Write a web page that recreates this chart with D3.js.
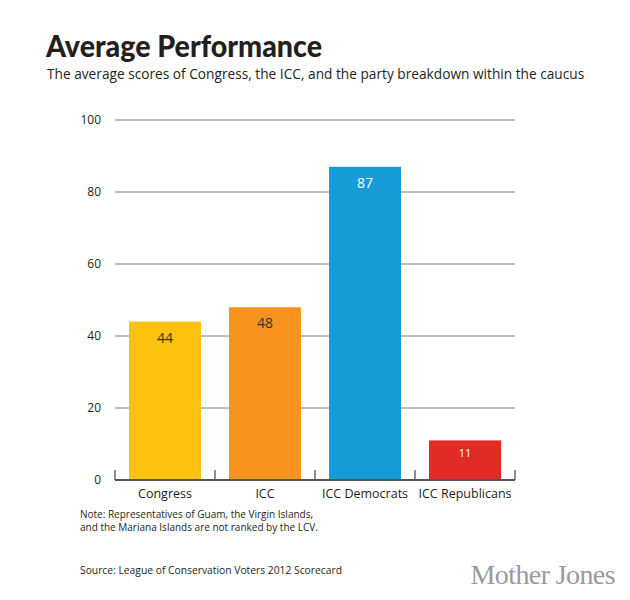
<!DOCTYPE html>
<html>
<head>
<meta charset="utf-8">
<script src="https://cdn.jsdelivr.net/npm/d3@7"></script>
<style>
  body { margin: 0; background: #fff; }
  svg { font-family: "Open Sans", sans-serif; }
</style>
</head>
<body>
<script>
// chart data
var categories = ["Congress", "ICC", "ICC Democrats", "ICC Republicans"];
var scores = [44, 48, 87, 11];
var barColors = ["#FDC20F", "#F7941E", "#179BD7", "#E12B26"];
var labelColors = ["#333", "#333", "#fff", "#fff"];
var yTicks = [0, 20, 40, 60, 80, 100];

var svgWidth = 630;
var svgHeight = 600;

var svg = d3.select("body").append("svg")
    .attr("width", svgWidth)
    .attr("height", svgHeight);

// titles
svg.append("text")
    .attr("x", 46).attr("y", 57)
    .style("font-family", "Lato, sans-serif")
    .attr("font-size", 30).attr("font-weight", 900)
    .attr("fill", "#231f20")
    .attr("textLength", 276)
    .attr("lengthAdjust", "spacingAndGlyphs")
    .text("Average Performance");

svg.append("text")
    .attr("x", 47).attr("y", 79)
    .attr("font-size", 13.7)
    .attr("fill", "#231f20")
    .text("The average scores of Congress, the ICC, and the party breakdown within the caucus");

// scales
var xBandScale = d3.scaleBand()
    .domain(categories)
    .range([115, 515])
    .paddingInner(0.28)
    .paddingOuter(0.14);

var yLinearScale = d3.scaleLinear()
    .domain([0, 100])
    .range([480, 120]);

// gridlines
svg.append("g").selectAll("line")
    .data(yTicks.filter(d => d > 0))
    .enter().append("line")
    .attr("x1", 115).attr("x2", 515)
    .attr("y1", d => yLinearScale(d))
    .attr("y2", d => yLinearScale(d))
    .attr("stroke", "#7a7a7a")
    .attr("stroke-width", 1);

// y labels
svg.append("g").selectAll("text")
    .data(yTicks)
    .enter().append("text")
    .attr("x", 101)
    .attr("y", d => yLinearScale(d) + 4)
    .attr("text-anchor", "end")
    .attr("font-size", 12)
    .attr("fill", "#231f20")
    .text(d => d);

// bars
svg.append("g").selectAll("rect")
    .data(scores)
    .enter().append("rect")
    .attr("x", (d, i) => xBandScale(categories[i]))
    .attr("width", xBandScale.bandwidth())
    .attr("y", d => yLinearScale(d))
    .attr("height", d => yLinearScale(0) - yLinearScale(d))
    .attr("fill", (d, i) => barColors[i]);

// value labels
svg.append("g").selectAll("text")
    .data(scores)
    .enter().append("text")
    .attr("x", (d, i) => xBandScale(categories[i]) + xBandScale.bandwidth() / 2)
    .attr("y", d => yLinearScale(d) + (d < 20 ? 17 : 21))
    .attr("text-anchor", "middle")
    .attr("font-size", d => d < 20 ? 11 : 14)
    .attr("fill", (d, i) => labelColors[i])
    .text(d => d);

// baseline + ticks at category boundaries
var tickXs = d3.range(categories.length + 1).map(i => 115 + i * xBandScale.step());
svg.append("g").selectAll("line")
    .data(tickXs)
    .enter().append("line")
    .attr("x1", d => d).attr("x2", d => d)
    .attr("y1", 470).attr("y2", 480)
    .attr("stroke", "#444").attr("stroke-width", 1.2);

svg.append("line")
    .attr("x1", 115).attr("x2", 515)
    .attr("y1", 480).attr("y2", 480)
    .attr("stroke", "#555").attr("stroke-width", 2);

// category labels
svg.append("g").selectAll("text")
    .data(categories)
    .enter().append("text")
    .attr("x", d => xBandScale(d) + xBandScale.bandwidth() / 2)
    .attr("y", 498)
    .attr("text-anchor", "middle")
    .attr("font-size", 12.5)
    .attr("fill", "#231f20")
    .text(d => d);

// notes
svg.append("text")
    .attr("x", 80).attr("y", 518)
    .attr("font-size", 10).attr("fill", "#231f20")
    .text("Note: Representatives of Guam, the Virgin Islands,");
svg.append("text")
    .attr("x", 80).attr("y", 531)
    .attr("font-size", 10).attr("fill", "#231f20")
    .text("and the Mariana Islands are not ranked by the LCV.");

svg.append("text")
    .attr("x", 80).attr("y", 574)
    .attr("font-size", 10.3).attr("fill", "#231f20")
    .text("Source: League of Conservation Voters 2012 Scorecard");

svg.append("text")
    .attr("x", 615).attr("y", 584)
    .attr("text-anchor", "end")
    .style("font-family", "'Liberation Serif', serif")
    .attr("font-size", 28)
    .attr("fill", "#9a9a9a")
    .attr("letter-spacing", -0.6)
    .text("Mother Jones");
</script>
</body>
</html>
